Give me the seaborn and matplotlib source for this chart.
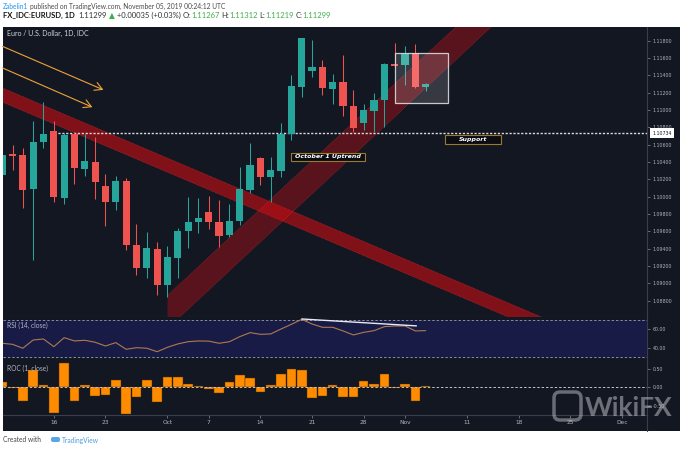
import numpy as np
import pandas as pd
import matplotlib
matplotlib.use("Agg")
import matplotlib.pyplot as plt
import matplotlib.transforms as mtransforms
from matplotlib.patches import Rectangle, Polygon, FancyBboxPatch
import seaborn as sns

# ---------------- data ----------------
dates = ["Sep 9", "Sep 10", "Sep 11", "Sep 12", "Sep 13", "Sep 16", "Sep 17", "Sep 18", "Sep 19", "Sep 20",
         "Sep 23", "Sep 24", "Sep 25", "Sep 26", "Sep 27", "Sep 30", "Oct 1", "Oct 2", "Oct 3", "Oct 4",
         "Oct 7", "Oct 8", "Oct 9", "Oct 10", "Oct 11", "Oct 14", "Oct 15", "Oct 16", "Oct 17", "Oct 18",
         "Oct 21", "Oct 22", "Oct 23", "Oct 24", "Oct 25", "Oct 28", "Oct 29", "Oct 30", "Oct 31", "Nov 1",
         "Nov 4", "Nov 5"]
opens = [1.10250, 1.10490, 1.10481, 1.10089, 1.10631, 1.10762, 1.09985, 1.10723, 1.10323, 1.10404,
         1.10124, 1.09935, 1.10185, 1.09439, 1.09174, 1.09393, 1.08981, 1.09296, 1.09604, 1.09712,
         1.09827, 1.09712, 1.09558, 1.09723, 1.10077, 1.10450, 1.10231, 1.10300, 1.10720, 1.11269,
         1.11450, 1.11493, 1.11239, 1.11327, 1.11047, 1.10847, 1.10989, 1.11116, 1.11535, 1.11520,
         1.11655, 1.11267]
highs = [1.10560, 1.10597, 1.10558, 1.10874, 1.11096, 1.10874, 1.10735, 1.10750, 1.10723, 1.10692,
         1.10259, 1.10242, 1.10212, 1.09682, 1.09596, 1.09481, 1.09431, 1.09635, 1.10000, 1.09989,
         1.10008, 1.09962, 1.09916, 1.10339, 1.10623, 1.10462, 1.10462, 1.10854, 1.11404, 1.11830,
         1.11808, 1.11577, 1.11412, 1.11635, 1.11231, 1.11066, 1.11193, 1.11539, 1.11770, 1.11739,
         1.11762, 1.11312]
lows = [1.10180, 1.10308, 1.09866, 1.09270, 1.10558, 1.09942, 1.09916, 1.10147, 1.10239, 1.09970,
        1.09665, 1.09847, 1.09385, 1.09097, 1.09059, 1.08866, 1.08840, 1.09059, 1.09405, 1.09578,
        1.09627, 1.09416, 1.09539, 1.09673, 1.10043, 1.10135, 1.09942, 1.10231, 1.10654, 1.11154,
        1.11385, 1.11173, 1.11070, 1.10931, 1.10750, 1.10770, 1.10750, 1.10808, 1.11500, 1.11289,
        1.11251, 1.11219]
closes = [1.10481, 1.10475, 1.10077, 1.10635, 1.10723, 1.09993, 1.10712, 1.10328, 1.10412, 1.10173,
          1.09942, 1.10185, 1.09439, 1.09181, 1.09405, 1.08981, 1.09301, 1.09604, 1.09712, 1.09758,
          1.09705, 1.09547, 1.09723, 1.10085, 1.10366, 1.10231, 1.10308, 1.10723, 1.11277, 1.11828,
          1.11500, 1.11251, 1.11320, 1.11047, 1.10796, 1.11000, 1.11116, 1.11528, 1.11512, 1.11647,
          1.11262, 1.11299]
rsi = [44.7, 43.6, 39.4, 48.2, 49.3, 41.1, 50.7, 47.2, 47.9, 45.8,
       41.8, 45.4, 38.3, 40.0, 39.4, 35.7, 40.4, 44.0, 46.4, 47.2,
       47.0, 44.7, 46.4, 51.8, 56.1, 54.3, 54.7, 60.0, 65.0, 70.3,
       65.3, 61.8, 61.8, 57.9, 53.6, 56.4, 58.2, 62.5, 63.2, 63.2,
       57.9, 58.2]
roc = [0.15, -0.01, -0.38, 0.48, 0.07, -0.69, 0.67, -0.37, 0.06, -0.23,
       -0.22, 0.21, -0.72, -0.26, 0.19, -0.40, 0.29, 0.27, 0.09, 0.03,
       -0.05, -0.16, 0.15, 0.33, 0.25, -0.13, 0.06, 0.36, 0.50, 0.48,
       -0.30, -0.25, 0.05, -0.26, -0.26, 0.16, 0.08, 0.35, -0.02, 0.10,
       -0.37, 0.03]

# time axis labels (bar index -> label), future bars included
xtick_pos = [5, 10, 16, 20, 25, 30, 35, 39, 45, 50, 55, 60]
xtick_lab = ["16", "23", "Oct", "7", "14", "21", "28", "Nov", "11", "18", "25", "Dec"]
price_ticks = [1.088, 1.090, 1.092, 1.094, 1.096, 1.098, 1.100, 1.102, 1.104, 1.106,
               1.108, 1.110, 1.112, 1.114, 1.116, 1.118]
rsi_ticks = [40, 60]
roc_ticks = [-0.5, 0.0, 0.5]

# drawings (bar index, price)
support_level = 1.10734
support_start = 5
desc_channel_top = [(-1.0, 1.11306), (62.0, 1.08115)]
desc_channel_width = 0.00162
asc_channel_top = [(16.0, 1.08860), (62.0, 1.13966)]
asc_channel_width = 0.00380
arrows = [((-0.21, 1.11747), (10.05, 1.11220)),
          ((-0.21, 1.11498), (8.98, 1.11020))]
rect_box = (38.07, 1.11078, 43.14, 1.11662)
label_boxes = [("October 1 Uptrend", 27.93, 1.10415, 35.12, 1.10508),
               ("Support", 42.87, 1.10608, 48.26, 1.10712)]
rsi_div_line = [(29.0, 70.7), (40.1, 63.3)]

# ---------------- styling ----------------
sns.set_theme(style="dark")
plt.rcParams["font.family"] = ["DejaVu Sans"]

BG = "#131722"
UP = "#26a69a"
DN = "#ef5350"
AXT = "#b2b5be"
SEP = "#3a3e4a"

W, H = 680, 449
fig = plt.figure(figsize=(W / 100, H / 100), dpi=100)
fig.patch.set_facecolor("white")
pix = mtransforms.Affine2D().scale(1.0 / W, -1.0 / H).translate(0, 1) + fig.transFigure

# dark container
fig.patches.append(Rectangle((3, 27), 677, 404, transform=pix, fc=BG, ec="none", zorder=-20))


def rect(x0, y0, x1, y1):
    return [x0 / W, 1 - y1 / H, (x1 - x0) / W, (y1 - y0) / H]


ax = fig.add_axes(rect(3, 27, 647, 317))
ax_rsi = fig.add_axes(rect(3, 317, 647, 359), sharex=ax)
ax_roc = fig.add_axes(rect(3, 359, 647, 415), sharex=ax)

idx = np.arange(len(closes))
o = np.array(opens); h = np.array(highs); l = np.array(lows); c = np.array(closes)

for a in (ax, ax_rsi, ax_roc):
    a.set_facecolor(BG)
    a.grid(False)
    for s in ("top", "left"):
        a.spines[s].set_visible(False)
    a.spines["right"].set_color(SEP)
    a.spines["right"].set_linewidth(0.8)
    a.spines["bottom"].set_color(SEP)
    a.spines["bottom"].set_linewidth(0.8)
    a.yaxis.tick_right()
    a.tick_params(axis="y", which="both", right=True, left=False, length=2.5, width=0.6,
                  color="#787b86", labelsize=3.4, labelcolor=AXT, pad=1.5)

ax.set_xlim(0.08, 62.42)
ax.set_ylim(1.08612, 1.11958)
ax_rsi.set_ylim(27.9, 72.8)
ax_roc.set_ylim(-0.757, 0.773)

ax.tick_params(axis="x", bottom=False, labelbottom=False)
ax_rsi.tick_params(axis="x", bottom=False, labelbottom=False)
ax_roc.set_xticks(xtick_pos)
ax_roc.set_xticklabels(xtick_lab)
ax_roc.tick_params(axis="x", bottom=True, length=2, width=0.6, color="#787b86",
                   labelsize=4.2, labelcolor=AXT, pad=1.3)

ax.set_yticks(price_ticks)
ax.set_yticklabels([f"{v:.5f}" for v in price_ticks])
ax_rsi.set_yticks(rsi_ticks)
ax_rsi.set_yticklabels([f"{v:.2f}" for v in rsi_ticks])
ax_roc.set_yticks(roc_ticks)
ax_roc.set_yticklabels([f"{v:.2f}" for v in roc_ticks])

# ---- channels ----
(dx0, dy0), (dx1, dy1) = desc_channel_top
ax.add_patch(Polygon([(dx0, dy0), (dx1, dy1), (dx1, dy1 - desc_channel_width), (dx0, dy0 - desc_channel_width)],
                     closed=True, fc=(0.80, 0.05, 0.08, 0.60), ec="none", zorder=1))
for off in (0, desc_channel_width):
    ax.plot([dx0, dx1], [dy0 - off, dy1 - off], color="#ff3030", lw=0.5, ls=(0, (1, 1)), alpha=0.6, zorder=1)
(ax0, ay0), (ax1, ay1) = asc_channel_top
ax.add_patch(Polygon([(ax0, ay0), (ax1, ay1), (ax1, ay1 - asc_channel_width), (ax0, ay0 - asc_channel_width)],
                     closed=True, fc=(0.80, 0.05, 0.08, 0.38), ec="none", zorder=1))
for off in (0, asc_channel_width):
    ax.plot([ax0, ax1], [ay0 - off, ay1 - off], color="#ff3030", lw=0.5, ls=(0, (1, 1)), alpha=0.5, zorder=1)

# ---- support line ----
ax.plot([support_start, 62.42], [support_level, support_level], color="#d8dae0", lw=1.0,
        ls=(0, (1.6, 1.2)), zorder=3)

# ---- candles ----
cols = [UP if cc >= oo else DN for oo, cc in zip(o, c)]
ax.vlines(idx, l, h, colors=cols, lw=0.75, zorder=4)
body_b = np.minimum(o, c)
body_h = np.maximum(np.abs(c - o), 0.00012)
ax.bar(idx, body_h, bottom=body_b, width=0.7, color=cols, lw=0, zorder=5)

# ---- arrows ----
for (p0, p1) in arrows:
    ax.annotate("", xy=p1, xytext=p0,
                arrowprops=dict(arrowstyle="->,head_length=0.45,head_width=0.25", color="#f0a23b", lw=0.8),
                zorder=6, annotation_clip=False)

# ---- rectangle ----
rx0, ry0, rx1, ry1 = rect_box
ax.add_patch(Rectangle((rx0, ry0), rx1 - rx0, ry1 - ry0, fc=(1, 1, 1, 0.15), ec=(0.85, 0.86, 0.88, 0.9),
                       lw=0.9, zorder=7))

# ---- text labels ----
for txt, x0, y0, x1, y1 in label_boxes:
    ax.add_patch(Rectangle((x0, y0), x1 - x0, y1 - y0, fc="#0b0d12", ec="#9a7a30", lw=0.8, zorder=8))
    ax.text((x0 + x1) / 2, (y0 + y1) / 2, txt, ha="center", va="center", fontsize=4.5, color="white",
            fontweight="bold", style="italic", zorder=9)

# price label on axis
blend = mtransforms.blended_transform_factory(ax.transAxes, ax.transData)
ax.text(1.0233, support_level, f"{support_level:.5f}", transform=blend, ha="center", va="center",
        fontsize=3.4, color=BG, clip_on=False, zorder=10,
        bbox=dict(boxstyle="square,pad=0.5", fc="white", ec="none"))

ax.text(0.0065, 0.976, "Euro / U.S. Dollar, 1D, IDC", transform=ax.transAxes, ha="left", va="center",
        fontsize=5.0, color="#d1d4dc", family=["Lato", "DejaVu Sans"])

# ---- RSI ----
ax_rsi.axhspan(30, 70, color="#171b45", zorder=0, lw=0)
for lev in (70, 30):
    ax_rsi.axhline(lev, color="#8a8d96", lw=0.7, ls=(0, (2.5, 2)), zorder=1)
sns.lineplot(x=idx, y=rsi, ax=ax_rsi, color="#b07a50", lw=0.8, zorder=3)
ax_rsi.plot([p[0] for p in rsi_div_line], [p[1] for p in rsi_div_line], color="#e8eaf0", lw=1.0, zorder=4)
ax_rsi.set_xlabel(""); ax_rsi.set_ylabel("")
ax_rsi.text(0.0065, 0.80, "RSI (14, close)", transform=ax_rsi.transAxes, fontsize=4.8, color=AXT,
            ha="left", va="center", family=["Lato", "DejaVu Sans"])

# ---- ROC ----
ax_roc.bar(idx, roc, width=0.92, color="#ff8c00", edgecolor="#4a2e05", lw=0.3, zorder=2)
ax_roc.axhline(0, color="#c0c3cc", lw=0.7, ls=(0, (2.5, 2)), zorder=3)
ax_roc.text(0.0065, 0.83, "ROC (1, close)", transform=ax_roc.transAxes, fontsize=4.8, color=AXT,
            ha="left", va="center", family=["Lato", "DejaVu Sans"], zorder=5)

# axis line continuing through time scale
fig.lines.append(plt.Line2D([647, 647], [415, 431], transform=pix, color=SEP, lw=0.8))

# ---- watermark ----
fig.patches.append(FancyBboxPatch((554, 392), 27, 28, boxstyle="round,pad=0,rounding_size=6", transform=pix,
                                  fc="none", ec=(0.75, 0.76, 0.78, 0.5), lw=2.5, zorder=20))
fig.text(585 / W, 1 - 408 / H, "WikiFX", fontsize=19, fontweight="bold", color=(0.78, 0.79, 0.81, 0.5),
         ha="left", va="center", family=["Lato", "DejaVu Sans"], zorder=20)

# ---- header / footer ----
renderer = fig.canvas.get_renderer()
HF = ["Lato", "DejaVu Sans"]


def measure(s, size, weight):
    t = fig.text(0, 0, s, fontsize=size, fontweight=weight, family=HF)
    w = t.get_window_extent(renderer=renderer).width
    t.remove()
    return w


def seg_text(x_px, y_px, parts, size):
    sp = measure("a a", size, "normal") - measure("aa", size, "normal")
    x = x_px
    for s, color, weight in parts:
        lead = len(s) - len(s.lstrip(" "))
        trail = len(s) - len(s.rstrip(" "))
        core = s.strip(" ")
        x += lead * sp
        t = fig.text(x / W, 1 - y_px / H, core, color=color, fontsize=size, fontweight=weight,
                     family=HF, ha="left", va="center")
        x += t.get_window_extent(renderer=renderer).width + trail * sp


DARK = "#333333"
GREEN = "#3fae49"
seg_text(3, 6.5, [("Zabelin1", "#2196f3", "normal"),
                  (" published on TradingView.com, November 05, 2019 00:24:12 UTC", "#4a4a4a", "normal")], 4.8)
seg_text(3, 15.5, [("FX_IDC:EURUSD, 1D", "#111111", "bold"), ("  1.11299 ", DARK, "normal"),
                   ("▲", GREEN, "normal"), (" +0.00035 (+0.03%) ", DARK, "normal"),
                   ("O:", DARK, "normal"), ("1.11267", GREEN, "normal"),
                   (" H:", DARK, "normal"), ("1.11312", GREEN, "normal"),
                   (" L:", DARK, "normal"), ("1.11219", GREEN, "normal"),
                   (" C:", DARK, "normal"), ("1.11299", GREEN, "normal")], 5.5)

fig.text(3 / W, 1 - 440 / H, "Created with", fontsize=4.8, color="#444444", family=HF, ha="left", va="center")
fig.patches.append(FancyBboxPatch((51, 437), 9, 5, boxstyle="round,pad=0,rounding_size=2", transform=pix,
                                  fc="#58a6e6", ec="none"))
fig.text(62 / W, 1 - 440 / H, "TradingView", fontsize=4.8, color="#4a9ee0", family=HF, ha="left", va="center")

fig.savefig("out.png", dpi=100, facecolor="white")
